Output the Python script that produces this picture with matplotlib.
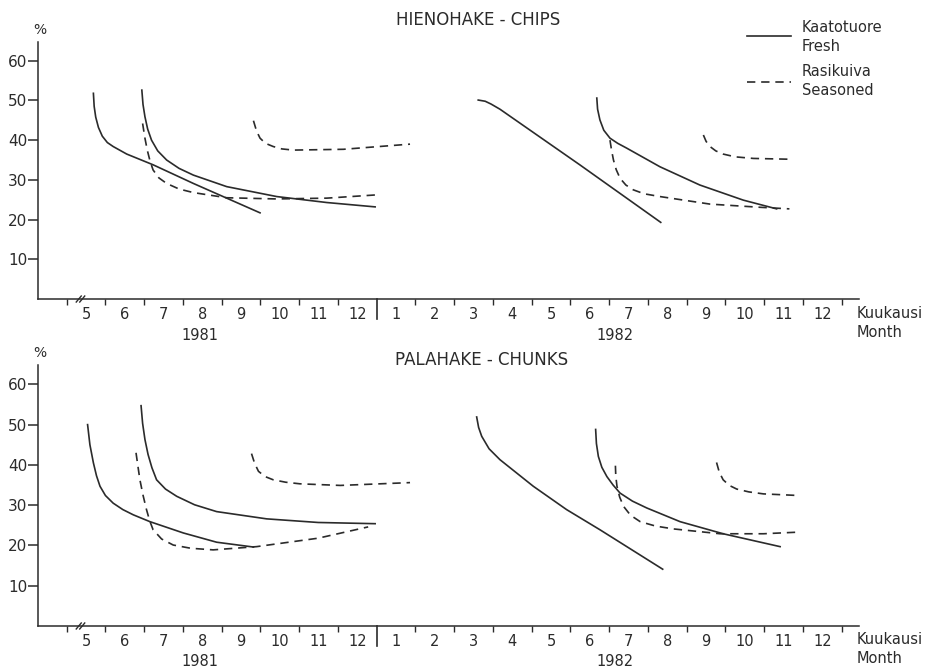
import matplotlib
matplotlib.use("Agg")
import matplotlib.pyplot as plt
from matplotlib.lines import Line2D
import matplotlib.transforms as mtransforms

# x = month index, 1981 months are 5..12, 1982 months are 13..24
month_pos = list(range(5, 25))
month_labels = ["5", "6", "7", "8", "9", "10", "11", "12",
                "1", "2", "3", "4", "5", "6", "7", "8", "9", "10", "11", "12"]
y_ticks = [10, 20, 30, 40, 50, 60]

# --- HIENOHAKE - CHIPS ---
chips_fresh1_x = [5.19, 5.21, 5.25, 5.32, 5.42, 5.55, 5.70, 6.05, 6.73, 7.77, 8.63, 9.49]
chips_fresh1_y = [51.8, 48.5, 45.8, 43.2, 41.0, 39.4, 38.4, 36.5, 33.8, 29.1, 25.4, 21.7]
chips_fresh2_x = [6.44, 6.47, 6.52, 6.59, 6.69, 6.85, 7.08, 7.40, 7.77, 8.63, 9.92, 11.21, 12.46]
chips_fresh2_y = [52.6, 49.0, 45.9, 42.8, 40.0, 37.3, 35.0, 32.9, 31.2, 28.3, 25.8, 24.3, 23.2]
chips_fresh3_x = [15.12, 15.30, 15.45, 15.68, 17.74, 19.83]
chips_fresh3_y = [50.1, 49.8, 49.1, 47.8, 33.8, 19.3]
chips_fresh4_x = [18.18, 18.20, 18.26, 18.36, 18.52, 18.72, 18.95, 19.81, 20.84, 21.96, 22.82]
chips_fresh4_y = [50.6, 47.8, 45.1, 42.5, 40.5, 39.2, 38.0, 33.3, 28.7, 24.9, 22.7]
chips_seas1_x = [6.46, 6.52, 6.58, 6.65, 6.73, 6.88, 7.08, 7.40, 7.77, 8.63, 9.92, 11.21, 12.46]
chips_seas1_y = [44.2, 40.5, 37.5, 34.8, 32.5, 30.5, 29.1, 27.7, 26.8, 25.5, 25.2, 25.4, 26.2]
chips_seas2_x = [9.32, 9.40, 9.49, 9.63, 9.83, 10.05, 10.35, 11.64, 13.36]
chips_seas2_y = [44.9, 42.3, 40.5, 39.2, 38.4, 37.8, 37.5, 37.7, 39.0]
chips_seas3_x = [18.52, 18.56, 18.61, 18.68, 18.78, 18.93, 19.12, 19.40, 19.81, 21.10, 22.39, 23.15]
chips_seas3_y = [40.0, 37.5, 35.0, 32.6, 30.4, 28.7, 27.5, 26.5, 25.8, 23.9, 23.1, 22.7]
chips_seas4_x = [20.93, 21.00, 21.10, 21.25, 21.44, 21.75, 22.22, 23.15]
chips_seas4_y = [41.3, 39.7, 38.4, 37.3, 36.5, 35.8, 35.4, 35.2]

# --- PALAHAKE - CHUNKS ---
chunks_fresh1_x = [5.04, 5.10, 5.19, 5.27, 5.36, 5.50, 5.70, 5.95, 6.22, 6.65, 7.51, 8.37, 9.32]
chunks_fresh1_y = [50.0, 45.0, 40.5, 37.3, 34.7, 32.4, 30.5, 28.9, 27.6, 25.9, 23.1, 20.8, 19.6]
chunks_fresh2_x = [6.42, 6.46, 6.52, 6.60, 6.70, 6.82, 7.05, 7.34, 7.80, 8.37, 9.66, 10.99, 12.46]
chunks_fresh2_y = [54.7, 50.3, 46.3, 42.6, 39.3, 36.3, 34.0, 32.2, 30.1, 28.4, 26.6, 25.7, 25.4]
chunks_fresh3_x = [15.08, 15.13, 15.21, 15.40, 15.68, 16.54, 17.40, 18.26, 19.88]
chunks_fresh3_y = [51.9, 49.3, 47.1, 44.0, 41.3, 34.7, 28.9, 23.9, 14.1]
chunks_fresh4_x = [18.15, 18.17, 18.22, 18.31, 18.44, 18.60, 18.78, 19.10, 19.47, 20.33, 21.44, 22.91]
chunks_fresh4_y = [48.8, 45.3, 42.1, 39.4, 37.1, 35.0, 33.0, 31.0, 29.3, 25.9, 22.9, 19.7]
chunks_seas1_x = [6.29, 6.34, 6.39, 6.47, 6.56, 6.64, 6.73, 6.95, 7.25, 7.70, 8.28, 9.40, 10.99, 12.28]
chunks_seas1_y = [43.0, 39.6, 36.3, 32.5, 28.9, 26.2, 23.9, 21.6, 20.1, 19.3, 18.9, 19.7, 21.8, 24.6]
chunks_seas2_x = [9.27, 9.35, 9.45, 9.62, 9.83, 10.15, 10.52, 11.56, 13.36]
chunks_seas2_y = [42.8, 40.4, 38.4, 37.1, 36.3, 35.7, 35.3, 34.9, 35.6]
chunks_seas3_x = [18.66, 18.67, 18.70, 18.77, 18.87, 19.05, 19.30, 19.70, 20.16, 21.36, 22.48, 23.38]
chunks_seas3_y = [39.8, 37.2, 34.7, 32.0, 29.7, 27.5, 25.9, 24.8, 24.1, 22.9, 22.9, 23.3]
chunks_seas4_x = [21.27, 21.34, 21.44, 21.60, 21.79, 22.10, 22.48, 23.38]
chunks_seas4_y = [40.6, 38.2, 36.3, 34.9, 34.0, 33.3, 32.8, 32.4]

ink = "#2b2b2b"
lw = 1.2
dash = (5, 3.5)

fig = plt.figure(figsize=(9.33, 6.7), dpi=100)
ax1 = fig.add_axes([0.041, 0.5537, 0.8797, 0.3841])
ax2 = fig.add_axes([0.041, 0.0657, 0.8797, 0.3895])


def style_axis(ax, h_px):
    ax.set_xlim(3.767, 24.946)
    ax.set_ylim(0, 64.8)
    for s in ["top", "right"]:
        ax.spines[s].set_visible(False)
    for s in ["left", "bottom"]:
        ax.spines[s].set_color(ink)
        ax.spines[s].set_linewidth(1.1)
    ax.set_yticks(y_ticks)
    ax.tick_params(axis="y", direction="out", length=7, width=1.1, pad=1,
                   labelsize=11, colors=ink)
    ax.set_xticks(month_pos)
    ax.set_xticklabels(month_labels)
    ax.tick_params(axis="x", which="major", length=0, pad=6, labelsize=10.5,
                   colors=ink)
    bounds = [m - 0.5 for m in month_pos] + [24.5]
    bounds = [b for b in bounds if b != 12.5]
    ax.set_xticks(bounds, minor=True)
    ax.tick_params(axis="x", which="minor", direction="out", length=4,
                   width=1.0, color=ink)
    trans = mtransforms.blended_transform_factory(ax.transData, ax.transAxes)
    # year separator
    ax.plot([12.5, 12.5], [0, -20 / h_px], transform=trans, color=ink,
            lw=1.2, clip_on=False)
    # axis break mark
    for dx in (0, 3.5):
        x0 = 47 / 821.0 + dx / 821.0 - 9 / 821.0
        ax.plot([x0, x0 + 5 / 821.0], [-3 / h_px, 3 / h_px],
                transform=ax.transAxes, color=ink, lw=1.0, clip_on=False)
    ax.text(7.94, -36 / h_px, "1981", transform=trans, ha="center",
            va="center", fontsize=10.5, color=ink)
    ax.text(18.65, -36 / h_px, "1982", transform=trans, ha="center",
            va="center", fontsize=10.5, color=ink)
    ax.text(0.9976, -14 / h_px, "Kuukausi", transform=ax.transAxes,
            ha="left", va="center", fontsize=10.5, color=ink)
    ax.text(0.9976, -33 / h_px, "Month", transform=ax.transAxes,
            ha="left", va="center", fontsize=10.5, color=ink)
    ax.text(0.002, 1.045, "%", transform=ax.transAxes, ha="center",
            va="center", fontsize=10, color=ink)


style_axis(ax1, 257)
style_axis(ax2, 261)

ax1.plot(chips_fresh1_x, chips_fresh1_y, color=ink, lw=lw)
ax1.plot(chips_fresh2_x, chips_fresh2_y, color=ink, lw=lw)
ax1.plot(chips_fresh3_x, chips_fresh3_y, color=ink, lw=lw)
ax1.plot(chips_fresh4_x, chips_fresh4_y, color=ink, lw=lw)
ax1.plot(chips_seas1_x, chips_seas1_y, color=ink, lw=lw, dashes=dash)
ax1.plot(chips_seas2_x, chips_seas2_y, color=ink, lw=lw, dashes=dash)
ax1.plot(chips_seas3_x, chips_seas3_y, color=ink, lw=lw, dashes=dash)
ax1.plot(chips_seas4_x, chips_seas4_y, color=ink, lw=lw, dashes=dash)

ax2.plot(chunks_fresh1_x, chunks_fresh1_y, color=ink, lw=lw)
ax2.plot(chunks_fresh2_x, chunks_fresh2_y, color=ink, lw=lw)
ax2.plot(chunks_fresh3_x, chunks_fresh3_y, color=ink, lw=lw)
ax2.plot(chunks_fresh4_x, chunks_fresh4_y, color=ink, lw=lw)
ax2.plot(chunks_seas1_x, chunks_seas1_y, color=ink, lw=lw, dashes=dash)
ax2.plot(chunks_seas2_x, chunks_seas2_y, color=ink, lw=lw, dashes=dash)
ax2.plot(chunks_seas3_x, chunks_seas3_y, color=ink, lw=lw, dashes=dash)
ax2.plot(chunks_seas4_x, chunks_seas4_y, color=ink, lw=lw, dashes=dash)

fig.text(0.512, 0.970, "HIENOHAKE - CHIPS", ha="center", va="center",
         fontsize=12, color=ink)
fig.text(0.516, 0.463, "PALAHAKE - CHUNKS", ha="center", va="center",
         fontsize=12, color=ink)

# legend
fig.add_artist(Line2D([746.7 / 933, 791 / 933], [1 - 36 / 670, 1 - 36 / 670],
                      color=ink, lw=lw))
fig.add_artist(Line2D([746.7 / 933, 791 / 933], [1 - 81.7 / 670, 1 - 81.7 / 670],
                      color=ink, lw=lw, dashes=dash))
fig.text(801.7 / 933, 1 - 37 / 670, "Kaatotuore\nFresh", ha="left",
         va="center", fontsize=10.5, color=ink, linespacing=1.3)
fig.text(801.7 / 933, 1 - 81 / 670, "Rasikuiva\nSeasoned", ha="left",
         va="center", fontsize=10.5, color=ink, linespacing=1.3)

fig.savefig("out.png", dpi=100, facecolor="white")
